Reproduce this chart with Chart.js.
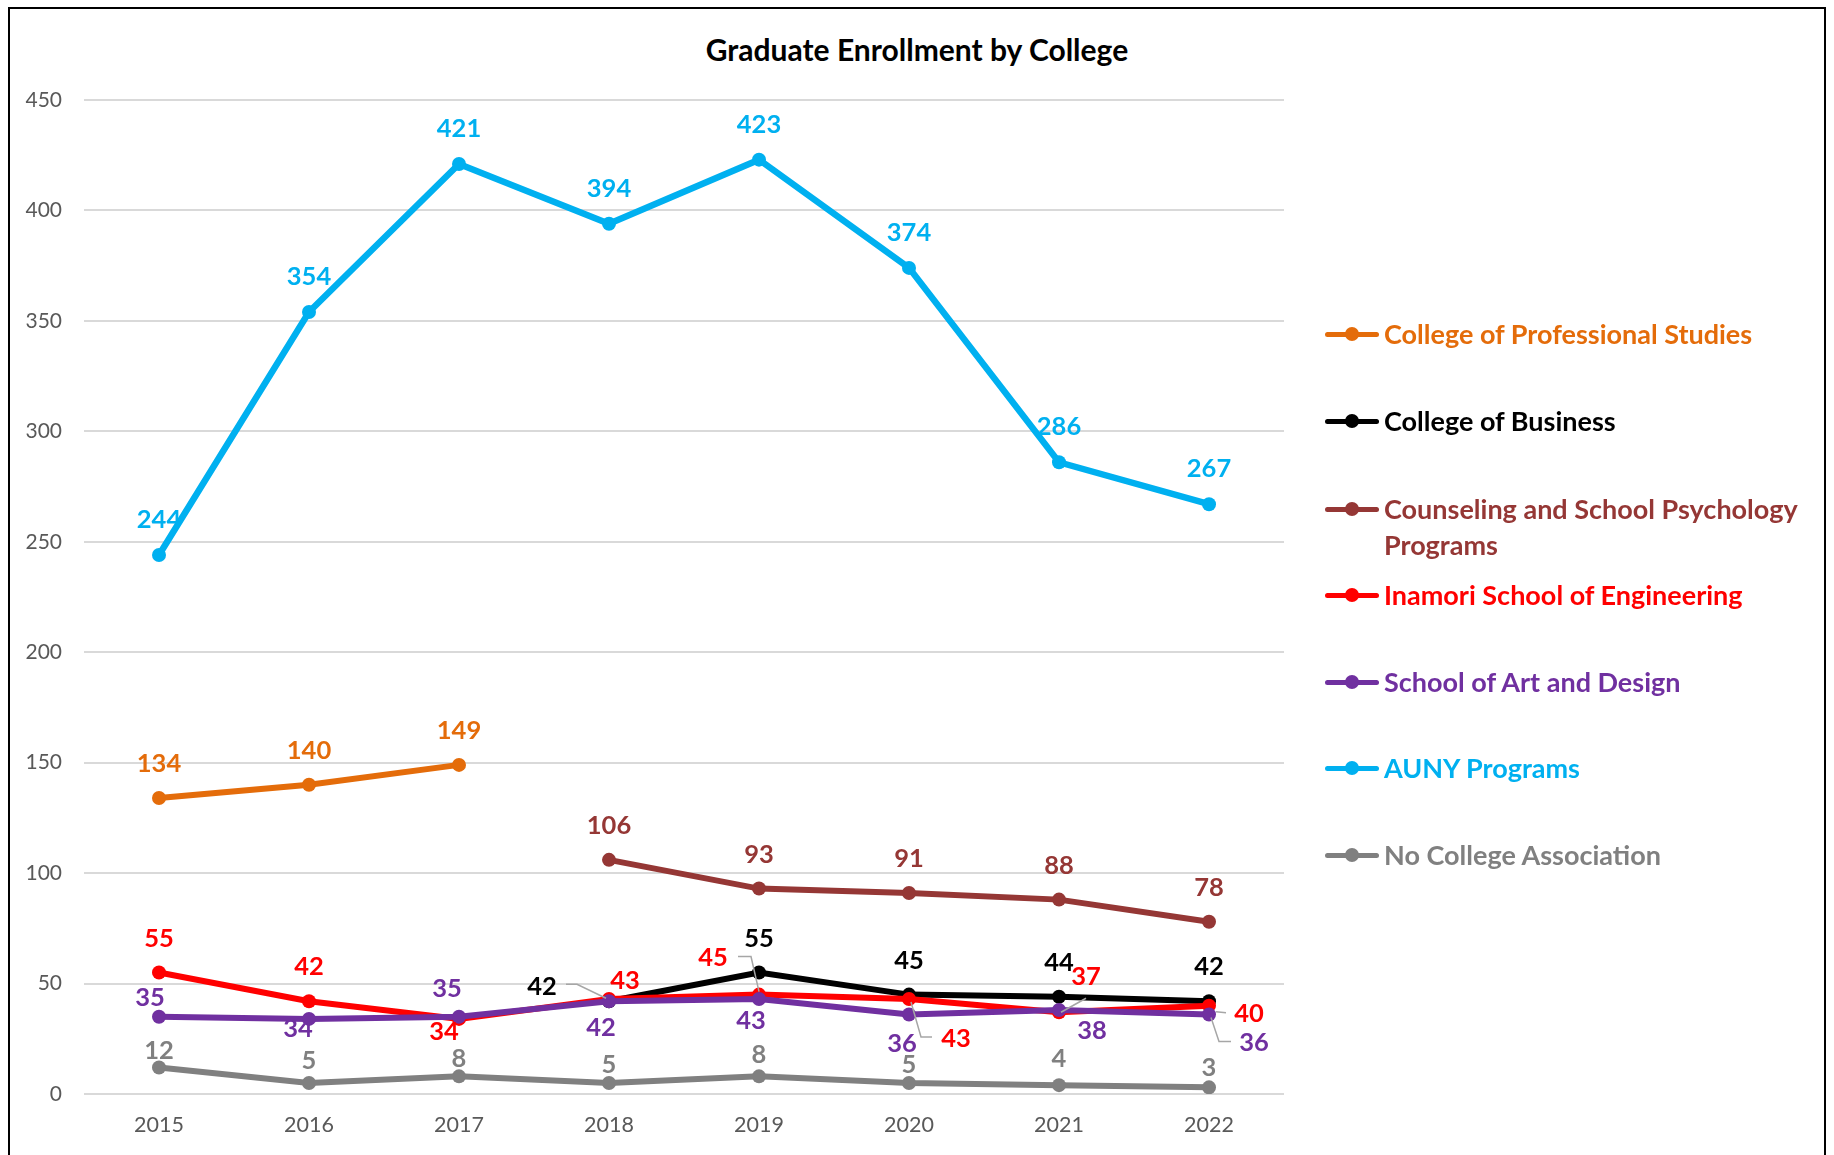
<!DOCTYPE html>
<html>
<head>
<meta charset="utf-8">
<script src="https://cdn.jsdelivr.net/npm/chart.js@4.4.1/dist/chart.umd.min.js"></script>
<style>
  html, body { margin:0; padding:0; background:#fff; width:1834px; height:1155px; overflow:hidden; font-family: Lato, "Open Sans", sans-serif; }
  #frame { position:absolute; left:8px; top:7px; width:1818px; height:1200px; border:2px solid #000; box-sizing:border-box; }
  #title { position:absolute; left:0; width:1834px; top:30px; text-align:center; font-weight:700; font-size:30px; line-height:38px; color:#000; }
  #chart { position:absolute; left:0; top:0; }
  #legend { position:absolute; left:1325px; top:0; }
  .item { position:absolute; left:0; white-space:nowrap; font-weight:700; font-size:27px; line-height:36px; }
  .mark { position:absolute; left:0; width:54px; height:5px; border-radius:2.5px; }
  .dot { position:absolute; left:20px; width:14px; height:14px; border-radius:50%; }
  .txt { position:absolute; left:59px; top:0; }
</style>
</head>
<body>
<div id="frame"></div>
<div id="title">Graduate Enrollment by College</div>
<canvas id="chart" width="1834" height="1155"></canvas>
<div id="legend"></div>
<script>
// ---- data ----
const years = ['2015','2016','2017','2018','2019','2020','2021','2022'];
const professionalStudies = [134, 140, 149, null, null, null, null, null];
const business = [null, null, null, 42, 55, 45, 44, 42];
const counseling = [null, null, null, 106, 93, 91, 88, 78];
const engineering = [55, 42, 34, 43, 45, 43, 37, 40];
const artDesign = [35, 34, 35, 42, 43, 36, 38, 36];
const auny = [244, 354, 421, 394, 423, 374, 286, 267];
const noCollege = [12, 5, 8, 5, 8, 5, 4, 3];
const yTicks = [0, 50, 100, 150, 200, 250, 300, 350, 400, 450];

const seriesNames = ['College of Professional Studies','College of Business','Counseling and School Psychology Programs','Inamori School of Engineering','School of Art and Design','AUNY Programs','No College Association'];
const seriesData = [professionalStudies, business, counseling, engineering, artDesign, auny, noCollege];
const seriesColors = ['#E46C0A','#000000','#953735','#FF0000','#7030A0','#00B0F0','#808080'];

// label offsets (px from point to label centre); null = default
const labelOffsets = [
  null,
  [null,null,null,[-67,-14],null,null,null,null],
  null,
  [null,null,[-15,13],[16,-18],[-46,-37],[47,40],[27,-35],[40,8]],
  [[-9,-19],[-11,10],[-12,-28],[-8,27],[-8,22],[-7,29],[33,21],[45,28]],
  null,
  [[0,-17],[0,-22],[0,-18],[0,-18],[0,-22],[0,-18],[0,-26],[0,-20]]
];
const defaultDy = [-34,-34,-34,-34,-34,-35,-20];
// leader lines (relative to point)
const leaders = [
  {s:1, i:3, pts:[[-43,-17],[-32,-17],[-3,-3]]},
  {s:3, i:4, pts:[[-21,-38],[-8,-38],[0,-3]]},
  {s:3, i:5, pts:[[23,38],[12,38],[2,3]]},
  {s:3, i:6, pts:[[27,-14],[2,0]]},
  {s:3, i:7, pts:[[7,6],[17,7]]},
  {s:4, i:7, pts:[[22,27],[10,27],[2,3]]}
];

const datasets = seriesNames.map((n, k) => ({
  label: n,
  data: seriesData[k],
  borderColor: seriesColors[k],
  backgroundColor: seriesColors[k],
  borderWidth: k === 5 ? 6.5 : 6,
  pointRadius: 7,
  pointHoverRadius: 7,
  pointBorderWidth: 0,
  tension: 0,
  order: seriesNames.length - k
}));

const labelPlugin = {
  id: 'valueLabels',
  afterDatasetsDraw(chart) {
    const ctx = chart.ctx;
    ctx.save();
    ctx.strokeStyle = '#A6A6A6';
    ctx.lineWidth = 1.5;
    leaders.forEach(l => {
      const el = chart.getDatasetMeta(l.s).data[l.i];
      ctx.beginPath();
      l.pts.forEach((p, j) => {
        const x = el.x + p[0], y = el.y + p[1];
        if (j === 0) ctx.moveTo(x, y); else ctx.lineTo(x, y);
      });
      ctx.stroke();
    });
    ctx.font = 'bold 25.5px Lato';
    ctx.textAlign = 'center';
    ctx.textBaseline = 'middle';
    chart.data.datasets.forEach((ds, s) => {
      const meta = chart.getDatasetMeta(s);
      ds.data.forEach((v, i) => {
        if (v === null) return;
        const el = meta.data[i];
        let off = labelOffsets[s] && labelOffsets[s][i];
        if (!off) off = [0, defaultDy[s]];
        ctx.fillStyle = seriesColors[s];
        ctx.fillText(String(v), el.x + off[0], el.y + off[1]);
      });
    });
    ctx.restore();
  }
};

// HTML legend
const legendTops = [334, 421, 509, 595, 682, 768, 855];
const legend = document.getElementById('legend');
seriesNames.forEach((n, k) => {
  const it = document.createElement('div');
  it.className = 'item';
  it.style.top = (legendTops[k] - 18) + 'px';
  it.style.color = seriesColors[k];
  const mk = document.createElement('div'); mk.className = 'mark'; mk.style.top = '15.5px'; mk.style.background = seriesColors[k];
  const dt = document.createElement('div'); dt.className = 'dot'; dt.style.top = '11px'; dt.style.background = seriesColors[k];
  const tx = document.createElement('div'); tx.className = 'txt';
  if (k === 2) { tx.innerHTML = 'Counseling and School Psychology<br>Programs'; }
  else tx.textContent = n;
  it.appendChild(mk); it.appendChild(dt); it.appendChild(tx);
  legend.appendChild(it);
});

new Chart(document.getElementById('chart'), {
  type: 'line',
  data: { labels: years, datasets },
  options: {
    responsive: false,
    devicePixelRatio: 1,
    animation: false,
    layout: { padding: { left: 20, right: 550, top: 100, bottom: 0 } },
    plugins: { legend: { display: false }, title: { display: false }, tooltip: { enabled: false } },
    scales: {
      x: {
        offset: true,
        grid: { display: false, drawTicks: false },
        border: { display: false },
        ticks: { color: '#595959', font: { family: 'Lato', size: 21.5 }, padding: 18, maxRotation: 0 },
        afterFit(scale) { scale.height = 61; }
      },
      y: {
        min: 0, max: 450,
        afterBuildTicks(scale) { scale.ticks = yTicks.map(v => ({ value: v })); },
        grid: { color: '#D9D9D9', lineWidth: 2, drawTicks: false },
        border: { display: false },
        ticks: { color: '#595959', font: { family: 'Lato', size: 21 }, padding: 22 },
        afterFit(scale) { scale.width = 64; }
      }
    }
  },
  plugins: [labelPlugin]
});
</script>
</body>
</html>
